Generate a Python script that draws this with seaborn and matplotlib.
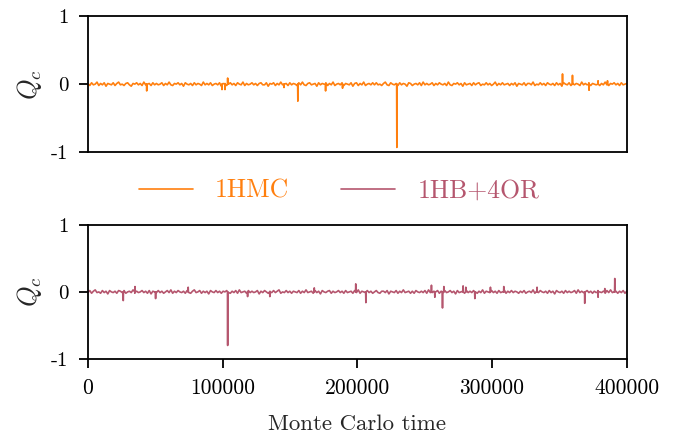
import numpy as np
import pandas as pd
import matplotlib
matplotlib.use("Agg")
import matplotlib.pyplot as plt
import seaborn as sns

# ---------------- data ----------------
series_names = ["1HMC", "1HB+4OR"]
x_ticks = [0, 100000, 200000, 300000, 400000]
x_tick_labels = ["0", "100000", "200000", "300000", "400000"]
y_ticks = [-1, 0, 1]
y_tick_labels = ["-1", "0", "1"]

# baseline fluctuation (in units of 0.01), sampled evenly over 0..400000
noise_hmc = [1, -2, 2, -1, 0, 3, -2, 1, -1, 2, -3, 1, 0, -1, 2, -2, 1, 3, -1, 0,
             -2, 1, 2, -1, -3, 1, 0, 2, -1, 1, -2, 3, -1, 0, 1, -2, 2, -1, 1, -1,
             0, 2, -2, 1, -1, 3, -1, -2, 1, 0, 2, -1, 1, -3, 2, 0, -1, 1, -2, 2,
             -1, 1, 0, -2, 3, -1, 1, -1, 2, -2, 0, 1, -1, 2, -3, 1, 1, -2, 0, 2,
             -1, 1, -2, 2, 0, -1, 3, -2, 1, -1, 0, 2, -1, 1, -2, 1, 2, -1, -1, 2,
             -3, 1, 0, 2, -2, 1, -1, 3, -1, 0, 1, -2, 2, -1, 1, 0, -2, 2, -1, 3,
             -1, -2, 1, 2, -1, 0, 1, -3, 2, -1, 1, 0, 2, -2, 1, -1, 3, -2, 0, 1,
             -1, 2, -2, 1, 0, -1, 2, -3, 1, 2, -2, 1, -1, 3, -2, 0, 1, -1, 2, -1,
             2, -1, 0, -2, 1, 3, -1, -2, 2, 0, -1, 1, -2, 2, -1, 1, 0, -3, 2, 1,
             -2, 0, 1, -1, 2, -2, 3, -1, 1, -1, 0, 2, -2, 1, -1, 2, 0, -1, 1, -2,
             3, -1, -2, 1, 0, 2, -1, 1, -3, 2, -1, 0, 1, -2, 2, -1, 1, 2, -2, 0,
             -1, 2, -1, 1, -2, 0, 3, -2, 1, -1, 2, -1, 0, 1, -2, 1, -1, 2, -3, 1,
             0, -1, 2, -2, 1, 1, -1, 3, -2, 0, -1, 2, -1, 1, -2, 2, 0, -1, 1, -2,
             2, -1, 1, -3, 2, 0, -1, 2, -2, 1, -1, 1, 0, -2, 3, -1, 1, -1, 2, -2,
             1, 0, -1, 2, -2, 1, -1, 3, -1, -2, 1, 0, 2, -1, 1, -2, 2, -1, 0, 1]
noise_hb = [-1, 2, -2, 1, 3, -1, 0, -2, 2, -1, 1, -3, 2, 0, -1, 1, -2, 2, 1, -1,
            2, -2, 0, 1, -1, 3, -2, 1, -1, 0, 2, -1, 1, -2, 2, -3, 1, 0, -1, 2,
            -1, 1, -2, 0, 2, -1, 3, -2, 1, -1, 2, 0, -1, 1, -2, 2, -1, -2, 1, 3,
            -1, 0, 2, -2, 1, -1, 1, -3, 2, 0, -1, 2, -1, 1, -2, 1, 0, 2, -1, -2,
            1, -1, 2, -2, 3, -1, 0, 1, -2, 2, -1, 1, -1, 0, 2, -3, 1, -1, 2, 0,
            -2, 1, -1, 2, -1, 1, 3, -2, 0, -1, 2, -1, 1, -2, 1, 0, -1, 2, -2, 1,
            -1, 3, -1, 0, 1, -2, 2, -1, 1, -3, 2, 0, -1, 1, 2, -2, 1, -1, 0, 2,
            -1, 1, -2, 2, -1, 0, 1, -2, 2, -1, 3, -2, 1, 0, -1, 2, -1, 1, -2, 0,
            2, -1, -2, 1, 1, -1, 2, -3, 1, 0, -1, 2, -2, 1, -1, 3, -1, 0, 1, -2,
            1, -2, 2, 0, -1, 1, -1, 2, -2, 3, -1, -1, 1, 0, 2, -2, 1, -1, 2, -1,
            0, 2, -1, 1, -3, 2, -1, 0, 1, -2, 2, -1, 1, -1, 2, 0, -2, 1, -1, 3,
            -2, 1, 0, -1, 2, -1, 1, -2, 2, -1, 0, 3, -2, 1, -1, 2, -1, 1, 0, -2,
            1, -1, 2, -2, 0, 1, -1, 3, -2, 1, -1, 2, 0, -1, 1, -2, 2, -1, 1, -3,
            2, 0, -1, 1, -2, 2, -1, 1, -1, 0, 2, -2, 3, -1, 1, -1, 0, 2, -1, 1,
            -2, 1, -1, 2, 0, -1, 1, -2, 2, -1, 3, -1, 0, 1, -2, 1, -1, 2, -2, 1]

# isolated spikes: Monte Carlo time and Q_c value
spike_t_hmc = [43600, 99500, 101700, 103700, 145500, 155800, 176400, 189000,
               229300, 352300, 359700, 372000, 378700, 385700]
spike_q_hmc = [-0.10, -0.08, -0.08, 0.09, -0.05, -0.25, -0.10, -0.06,
               -0.93, 0.15, 0.13, -0.09, 0.05, 0.05]
spike_t_hb = [26200, 34900, 50200, 74400, 103700, 118500, 135000, 168000,
              198800, 206300, 255000, 257500, 263200, 264200, 278500, 280500,
              287200, 298800, 308700, 333400, 368800, 378700, 383700, 391100]
spike_q_hb = [-0.13, 0.08, -0.10, 0.07, -0.80, -0.07, -0.07, 0.06,
              0.12, -0.16, 0.10, -0.08, -0.24, 0.08, 0.09, 0.07,
              -0.10, 0.07, 0.08, 0.07, -0.17, -0.08, 0.05, 0.20]

colors = ["#ff7f0e", "#b5566e"]


def build(noise, st, sq):
    n = len(noise)
    t = list(np.linspace(0, 400000, n))
    q = [v / 100.0 for v in noise]
    for ti, qi in zip(st, sq):
        t += [ti - 150, ti, ti + 150]
        q += [0.0, qi, 0.0]
    df = pd.DataFrame({"t": t, "q": q}).sort_values("t").reset_index(drop=True)
    return df


df_hmc = build(noise_hmc, spike_t_hmc, spike_q_hmc)
df_hb = build(noise_hb, spike_t_hb, spike_q_hb)

# ---------------- style ----------------
sns.set_style("ticks")
plt.rcParams["font.family"] = ["serif"]
plt.rcParams["font.serif"] = ["cmr10", "DejaVu Serif"]
plt.rcParams["mathtext.fontset"] = "cm"
plt.rcParams["axes.unicode_minus"] = False
plt.rcParams["axes.linewidth"] = 1.3
plt.rcParams["axes.edgecolor"] = "black"
plt.rcParams["xtick.color"] = "black"
plt.rcParams["ytick.color"] = "black"

fig = plt.figure(figsize=(6.82, 4.36), dpi=100)
ax1 = fig.add_axes([0.129, 0.651, 0.790, 0.312])
ax2 = fig.add_axes([0.129, 0.177, 0.790, 0.307])

handles = []
for ax, df, c, name in [(ax1, df_hmc, colors[0], series_names[0]),
                        (ax2, df_hb, colors[1], series_names[1])]:
    sns.lineplot(data=df, x="t", y="q", ax=ax, color=c, linewidth=1.2,
                 estimator=None, sort=False, label=name)
    handles.append(ax.get_lines()[0])
    ax.get_legend().remove()
    ax.set_xlim(0, 400000)
    ax.set_ylim(-1, 1)
    ax.set_yticks(y_ticks)
    ax.set_yticklabels(y_tick_labels, fontsize=15)
    ax.set_ylabel(r"$Q_c$", fontsize=19, labelpad=5)
    ax.tick_params(axis="both", direction="out", length=6.5, width=1.3, pad=7.5)
    for s in ax.spines.values():
        s.set_visible(True)
        s.set_linewidth(1.3)

ax1.set_xticks(x_ticks)
ax1.tick_params(axis="x", bottom=False, labelbottom=False)
ax1.set_xlabel("")
ax2.set_xticks(x_ticks)
ax2.set_xticklabels(x_tick_labels, fontsize=15.5)
ax2.set_xlabel("Monte Carlo time", fontsize=16.5, labelpad=12)

leg = fig.legend(handles, series_names, loc="center", bbox_to_anchor=(0.497, 0.562),
                 ncol=2, frameon=False, fontsize=18.5, handlelength=2.1,
                 handletextpad=0.85, columnspacing=2.05)
for txt, c in zip(leg.get_texts(), colors):
    txt.set_color(c)

fig.savefig("out.png", dpi=100)
